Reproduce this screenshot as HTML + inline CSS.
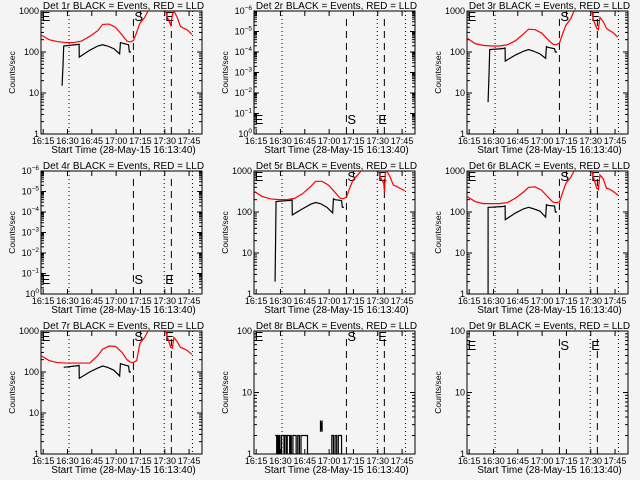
<!DOCTYPE html>
<html><head><meta charset="utf-8"><style>
html,body{margin:0;padding:0;background:#f4f4f4}
svg{display:block;font-family:"Liberation Sans",sans-serif}
</style></head><body>
<svg id="c" width="640" height="480" viewBox="0 0 640 480"></svg>
<script>
// time in minutes since 16:13:40
const tickLabels=["16:15","16:30","16:45","17:00","17:15","17:30","17:45"];
const tickTimes=[1.33,16.33,31.33,46.33,61.33,76.33,91.33];
const vDotted=[17.3,76,93.4];
const vDashed=[57,80.4];
const panelTitles=["Det 1r","Det 2r","Det 3r","Det 4r","Det 5r","Det 6r","Det 7r","Det 8r","Det 9r"];
const red1T=[0,5,10,15,20,25,30,35,38,42,46,50,53,55,57,59,61,64,66];
const red1V=[260,200,180,170,170,185,240,330,470,480,400,260,185,175,190,300,500,700,1000];
const red1bT=[77,78,80,81,82,84,86,88,90,93];
const red1bV=[1000,700,450,800,1000,700,420,380,350,270];
const blk1T=[13,13.6,14,21,21.5,23.5,23.6,30,35,38,41,45,48.5,49,50,54,54.5,55.5];
const blk1V=[15,50,140,150,150,155,75,110,140,150,140,120,90,170,165,150,100,100];
const red3T=[0,5,10,15,20,25,30,35,38,42,46,50,53,55,57,59,61,64,66];
const red3V=[220,160,145,140,140,150,190,280,360,350,290,200,155,150,165,280,450,650,1000];
const red3bT=[77,78,80,81,82,84,86,88,90,93];
const red3bV=[1000,600,380,350,700,550,380,330,300,230];
const blk3T=[13,13.6,14,21,21.5,23.5,23.6,30,35,38,41,45,48.5,49,50,54,54.5,55.5];
const blk3V=[6,30,115,120,120,125,60,85,105,115,105,90,70,135,130,120,100,100];
const red5T=[0,5,10,15,20,25,30,35,38,42,46,50,53,55,57,59,61,64,66];
const red5V=[320,240,210,200,200,215,280,420,560,560,450,300,220,210,230,380,600,800,1000];
const red5bT=[77,78,80,80.5,81,82,84,86,88,90,93];
const red5bV=[1000,700,500,300,900,1000,700,450,420,380,330];
const blk5T=[13,13.3,13.6,21,21.5,23.5,23.6,30,35,38,41,45,48.5,49,50,54,54.5,55.5];
const blk5V=[2,18,180,190,190,195,85,120,155,170,160,130,95,210,200,190,130,130];
const red6T=[0,5,10,15,20,25,30,35,38,42,46,50,53,55,57,59,61,64,66];
const red6V=[240,180,160,160,160,170,220,310,400,410,340,230,175,170,175,300,500,700,1000];
const red6bT=[77,78,80,81,82,84,86,88,90,93];
const red6bV=[1000,700,380,350,800,650,380,360,320,260];
const blk6T=[13,13.01,14,21,21.5,23.5,23.6,30,35,38,41,45,48.5,49,50,54,54.5,55.5];
const blk6V=[1,130,130,135,135,140,65,95,120,130,120,105,75,150,145,140,100,100];
const red7T=[0,5,10,15,20,25,30,35,38,42,46,50,53,55,57,59,61,64,66];
const red7V=[250,190,170,165,165,165,165,250,360,430,420,300,200,175,170,190,500,700,1000];
const red7bT=[77,78,80,81,82,84,86,88,90,93];
const red7bV=[1000,700,400,380,700,550,400,370,340,270];
const blk7T=[14,21,21.5,23.5,23.6,30,35,38,41,45,48.5,49,50,54,54.5,55.5];
const blk7V=[130,140,140,145,70,100,125,140,130,110,80,160,155,140,100,100];
const blk8T=[13,14,14.5,15,15.5,16,17,18,18.5,19,20,20.5,21,22,22.5,23,24,25,26,27,28,29,30,31,33,48,49,50,51,52,53,54];
const blk8V=[2,1,2,1,2,1,2,2,1,2,1,2,2,1,2,1,2,2,1,2,1,2,2,2,1,2,1,2,1,2,2,1];
const n8T=[41,41,42,42];
const n8V=[2.3,3.5,2.3,3.5];

const NS="http://www.w3.org/2000/svg";
const svg=document.getElementById('c');
function el(tag,attrs,parent){const e=document.createElementNS(NS,tag);for(const k in attrs)e.setAttribute(k,attrs[k]);(parent||svg).appendChild(e);return e;}

const L=41,R=202,T=11,B=134,TMAX=99.3;
function drawPanel(i,cfg){
  const ox=(i%3)*213, oy=Math.floor(i/3)*160;
  const g=el('g',{transform:`translate(${ox},${oy})`});
  
  
  const xs=t=>L+t/TMAX*(R-L);
  const lmin=Math.log10(cfg.ymin), lmax=Math.log10(cfg.ymax);
  const ys=v=>T+(lmax-Math.log10(v))/(lmax-lmin)*(B-T);
  const cp=el('clipPath',{id:'cp'+i},g); el('rect',{x:L,y:T,width:R-L,height:B-T},cp);
  const tt=el('text',{x:(L+R)/2+2,y:9,'font-size':10,'text-anchor':'middle',fill:'#000'},g);
  tt.textContent=panelTitles[i]+" BLACK = Events, RED = LLD";
  
  
  const fr=el('rect',{x:L,y:T,width:R-L,height:B-T,fill:'none',stroke:'#000','stroke-width':1},g);
  
  
  tickTimes.forEach(t=>{const x=xs(t);
    el('line',{x1:x,y1:B,x2:x,y2:B-5,stroke:'#000'},g);el('line',{x1:x,y1:T,x2:x,y2:T+5,stroke:'#000'},g);});
  tickTimes.forEach((t,k)=>{const tx=el('text',{x:xs(t),y:B+10,'font-size':9,'text-anchor':'middle'},g);tx.textContent=tickLabels[k];
    
    });
  const xt=el('text',{x:(L+R)/2+2,y:B+19,'font-size':10,'text-anchor':'middle'},g);xt.textContent="Start Time (28-May-15 16:13:40)";
  
  
  const yt=el('text',{x:0,y:0,'font-size':8.5,'text-anchor':'middle',transform:`translate(15,${(T+B)/2}) rotate(-90)`},g);yt.textContent="Counts/sec";
  
  
  for(let d=Math.round(lmin);d<=Math.round(lmax);d++){
    const y=ys(Math.pow(10,d));
    el('line',{x1:L,y1:y,x2:L+5,y2:y,stroke:'#000'},g);el('line',{x1:R,y1:y,x2:R-5,y2:y,stroke:'#000'},g);
    if(d<Math.round(lmax))for(let k=2;k<10;k++){const yy=ys(k*Math.pow(10,d));el('line',{x1:L,y1:yy,x2:L+3,y2:yy,stroke:'#000'},g);el('line',{x1:R,y1:yy,x2:R-3,y2:yy,stroke:'#000'},g);}
    const lb=el('text',{x:L-2,y:y+3,'font-size':9,'text-anchor':'end'},g);
    
    
    if(cfg.sci){lb.textContent="10";const sp=el('tspan',{dy:-4,'font-size':6.5},lb);const ex=d-Math.round(lmin);sp.textContent=ex===0?"0":"\u2212"+ex;}
    else lb.textContent=String(Math.pow(10,d));
  }
  vDotted.forEach(t=>{const l=el('line',{x1:xs(t),y1:T,x2:xs(t),y2:B,stroke:'#000','stroke-dasharray':'1,3'},g);
    });
  vDashed.forEach(t=>{const l=el('line',{x1:xs(t),y1:T+8,x2:xs(t),y2:B,stroke:'#000','stroke-dasharray':'7,5'},g);
    });
  const ly=cfg.letterY;
  [[0.4,"E"],[vDashed[0]+0.6,"S"],[vDotted[1]+0.6,"E"]].forEach(([t,s])=>{const tx=el('text',{x:xs(t),y:ly,'font-size':13},g);tx.textContent=s;
    });
  const cg=el('g',{'clip-path':`url(#cp${i})`},g);
  function line(ts,vs,color,name,step){let pts=[];ts.forEach((t,k)=>{const v=Math.max(vs[k],cfg.ymin*0.5);if(step&&k>0)pts.push(xs(t)+','+ys(Math.max(vs[k-1],cfg.ymin*0.5)));pts.push(xs(t)+','+ys(v));});
    const p=el('polyline',{points:pts.join(' '),fill:'none',stroke:color,'stroke-width':1.2},cg);
    }
  (cfg.series||[]).forEach(s=>line(s[0],s[1],s[2],s[3],s[4]));
}
const lin={ymin:1,ymax:1000,letterY:21};
drawPanel(0,{...lin,series:[[red1T,red1V,'#ff0000','lld-line'],[red1bT,red1bV,'#ff0000','lld-line-2'],[blk1T,blk1V,'#000','events-line']]});
drawPanel(1,{ymin:1e-6,ymax:1,sci:true,letterY:124});
drawPanel(2,{...lin,series:[[red3T,red3V,'#ff0000','lld-line'],[red3bT,red3bV,'#ff0000','lld-line-2'],[blk3T,blk3V,'#000','events-line']]});
drawPanel(3,{ymin:1e-6,ymax:1,sci:true,letterY:124});
drawPanel(4,{...lin,series:[[red5T,red5V,'#ff0000','lld-line'],[red5bT,red5bV,'#ff0000','lld-line-2'],[blk5T,blk5V,'#000','events-line']]});
drawPanel(5,{...lin,series:[[red6T,red6V,'#ff0000','lld-line'],[red6bT,red6bV,'#ff0000','lld-line-2'],[blk6T,blk6V,'#000','events-line']]});
drawPanel(6,{...lin,series:[[red7T,red7V,'#ff0000','lld-line'],[red7bT,red7bV,'#ff0000','lld-line-2'],[blk7T,blk7V,'#000','events-line']]});
drawPanel(7,{ymin:1,ymax:100,letterY:21,series:[[blk8T,blk8V,'#000','events-line',true],[n8T,n8V,'#000','events-spike']]});
drawPanel(8,{ymin:1,ymax:100,letterY:30});
</script>
</body></html>
